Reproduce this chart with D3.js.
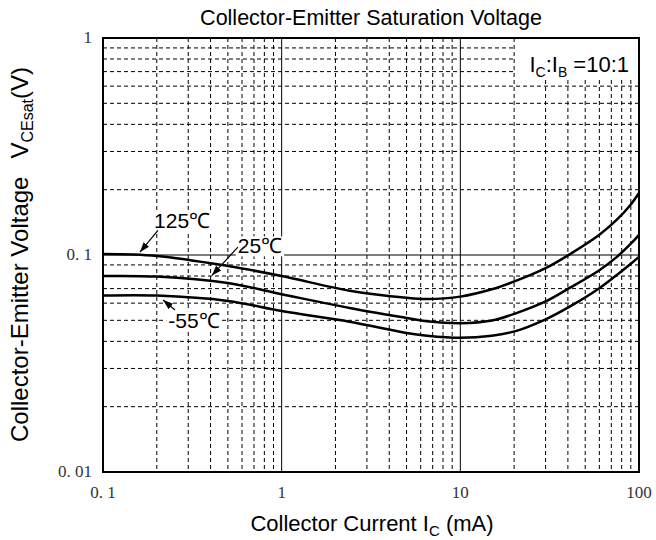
<!DOCTYPE html>
<html><head><meta charset="utf-8">
<script src="https://cdn.jsdelivr.net/npm/d3@7/dist/d3.min.js"></script>
<style>
body{margin:0;background:#fff;}
svg{display:block;}
.sans{font-family:"Liberation Sans",Arial,sans-serif;}
.serif{font-family:"Liberation Serif","Times New Roman",serif;}
</style>
</head><body>
<svg id="chart" width="656" height="540"></svg>
<script>
// ---- data ----
const currents = [0.1, 0.2, 0.5, 1, 2.4, 5, 6.5, 10, 15, 20.6, 30, 40.9, 60, 75.2, 90, 100];
const vce125 = [0.101, 0.099, 0.089, 0.080, 0.0685, 0.0635, 0.0627, 0.0643, 0.0695, 0.0762, 0.087, 0.1007, 0.124, 0.1455, 0.171, 0.193];
const vce25  = [0.080, 0.0795, 0.0743, 0.066, 0.057, 0.0513, 0.0495, 0.0485, 0.0499, 0.054, 0.0611, 0.0705, 0.0851, 0.098, 0.1127, 0.1239];
const vceM55 = [0.065, 0.065, 0.0614, 0.0552, 0.0493, 0.0437, 0.0425, 0.0416, 0.0425, 0.0447, 0.0505, 0.0578, 0.0703, 0.0809, 0.0911, 0.098];
const xTickValues = [0.1, 1, 10, 100];
const xTickLabels = ["0. 1", "1", "10", "100"];
const yTickValues = [0.01, 0.1, 1];
const yTickLabels = ["0. 01", "0. 1", "1"];
const seriesNames = ["125℃", "25℃", "-55℃"];
// label anchors (data coords): text, arrow tail, arrow head
const labelText = [[0.277, 0.1435], [0.756, 0.110], [0.323, 0.0497]];
const arrowTail = [[0.203, 0.130], [0.569, 0.1088], [0.253, 0.0558]];
const arrowHead = [[0.161, 0.103], [0.407, 0.0805], [0.217, 0.062]];

const svg = d3.select("#chart");
const L = 103, R = 639, T = 38, B = 472;
const x = d3.scaleLog().domain([0.1, 100]).range([L, R]);
const y = d3.scaleLog().domain([0.01, 1]).range([B, T]);

// grid
const gx = [], gy = [];
for (let d = 0.1; d < 100; d *= 10) for (let k = 2; k <= 9; k++) gx.push(+(d * k).toPrecision(3));
for (let d = 0.01; d < 1; d *= 10) for (let k = 2; k <= 9; k++) gy.push(+(d * k).toPrecision(3));
const grid = svg.append("g");
grid.selectAll(".vx").data(gx).join("line")
  .attr("x1", d => x(d)).attr("x2", d => x(d)).attr("y1", T).attr("y2", B)
  .attr("stroke", "#000").attr("stroke-width", 1).attr("stroke-dasharray", "4,3");
grid.selectAll(".hy").data(gy).join("line")
  .attr("x1", L).attr("x2", R).attr("y1", d => y(d)).attr("y2", d => y(d))
  .attr("stroke", "#000").attr("stroke-width", 1).attr("stroke-dasharray", "4,3");
grid.selectAll(".vs").data([1, 10]).join("line")
  .attr("x1", d => x(d)).attr("x2", d => x(d)).attr("y1", T).attr("y2", B)
  .attr("stroke", "#000").attr("stroke-width", 1);
grid.selectAll(".hs").data([0.1]).join("line")
  .attr("x1", L).attr("x2", R).attr("y1", d => y(d)).attr("y2", d => y(d))
  .attr("stroke", "#000").attr("stroke-width", 1);

// legend box (white background)
svg.append("rect").attr("x", 515).attr("y", T + 1).attr("width", R - 515 - 1).attr("height", 39).attr("fill", "#fff");
const leg = svg.append("text").attr("class", "sans").attr("x", 629).attr("y", 72)
  .attr("text-anchor", "end").attr("font-size", 22);
leg.append("tspan").text("I");
leg.append("tspan").attr("font-size", 14).attr("dy", 5).text("C");
leg.append("tspan").attr("dy", -5).text(":I");
leg.append("tspan").attr("font-size", 14).attr("dy", 5).text("B");
leg.append("tspan").attr("dy", -5).text(" =10:1");

// curve labels with white background
const labG = svg.append("g");
seriesNames.forEach((name, i) => {
  const t = labG.append("text").attr("class", "sans").attr("font-size", 21)
    .attr("x", x(labelText[i][0])).attr("y", y(labelText[i][1])).attr("dy", "0.35em")
    .attr("text-anchor", "middle").text(name);
  const bb = t.node().getBBox();
  labG.insert("rect", "text").attr("x", bb.x - 2).attr("y", bb.y + 2).attr("width", bb.width + 4)
    .attr("height", bb.height - 3).attr("fill", "#fff");
});

// curves
const line = d3.line().x(d => x(d[0])).y(d => y(d[1])).curve(d3.curveCatmullRom.alpha(0.5));
[vce125, vce25, vceM55].forEach(vals => {
  svg.append("path").datum(currents.map((c, j) => [c, vals[j]]))
    .attr("d", line).attr("fill", "none").attr("stroke", "#000").attr("stroke-width", 2.5);
});

// arrows
svg.append("defs").append("marker").attr("id", "ah").attr("viewBox", "0 0 10 10")
  .attr("refX", 10).attr("refY", 5).attr("markerWidth", 10).attr("markerHeight", 10)
  .attr("markerUnits", "userSpaceOnUse").attr("orient", "auto")
  .append("path").attr("d", "M0,1.5 L10,5 L0,8.5 Z").attr("fill", "#000");
arrowTail.forEach((tl, i) => {
  svg.append("line").attr("x1", x(tl[0])).attr("y1", y(tl[1]))
    .attr("x2", x(arrowHead[i][0])).attr("y2", y(arrowHead[i][1]))
    .attr("stroke", "#000").attr("stroke-width", 1.2).attr("marker-end", "url(#ah)");
});

// frame
svg.append("rect").attr("x", L).attr("y", T).attr("width", R - L).attr("height", B - T)
  .attr("fill", "none").attr("stroke", "#000").attr("stroke-width", 2);

// tick labels
svg.selectAll(".xt").data(xTickValues).join("text").attr("class", "serif")
  .attr("x", d => x(d)).attr("y", 498).attr("text-anchor", "middle").attr("font-size", 17)
  .attr("fill", "#333").text((d, i) => xTickLabels[i]);
svg.selectAll(".yt").data(yTickValues).join("text").attr("class", "serif")
  .attr("x", 92).attr("y", d => y(d)).attr("dy", "0.32em").attr("text-anchor", "end").attr("font-size", 17)
  .attr("fill", "#333").text((d, i) => yTickLabels[i]);

// title
svg.append("text").attr("class", "sans").attr("x", (L + R) / 2).attr("y", 25)
  .attr("text-anchor", "middle").attr("font-size", 21.5).text("Collector-Emitter Saturation Voltage");

// x label
const xl = svg.append("text").attr("class", "sans").attr("x", (L + R) / 2 + 1).attr("y", 531)
  .attr("text-anchor", "middle").attr("font-size", 22);
xl.append("tspan").text("Collector Current I");
xl.append("tspan").attr("font-size", 15).attr("dy", 5).text("C");
xl.append("tspan").attr("dy", -5).text(" (mA)");

// y label
const yl = svg.append("text").attr("class", "sans").attr("transform", "translate(28,442) rotate(-90)")
  .attr("text-anchor", "start").attr("font-size", 24);
yl.append("tspan").text("Collector-Emitter Voltage");
yl.append("tspan").attr("dx", 18).text("V");
yl.append("tspan").attr("font-size", 16).attr("dy", 5).text("CEsat");
yl.append("tspan").attr("dy", -5).text("(V)");
</script>
</body></html>
